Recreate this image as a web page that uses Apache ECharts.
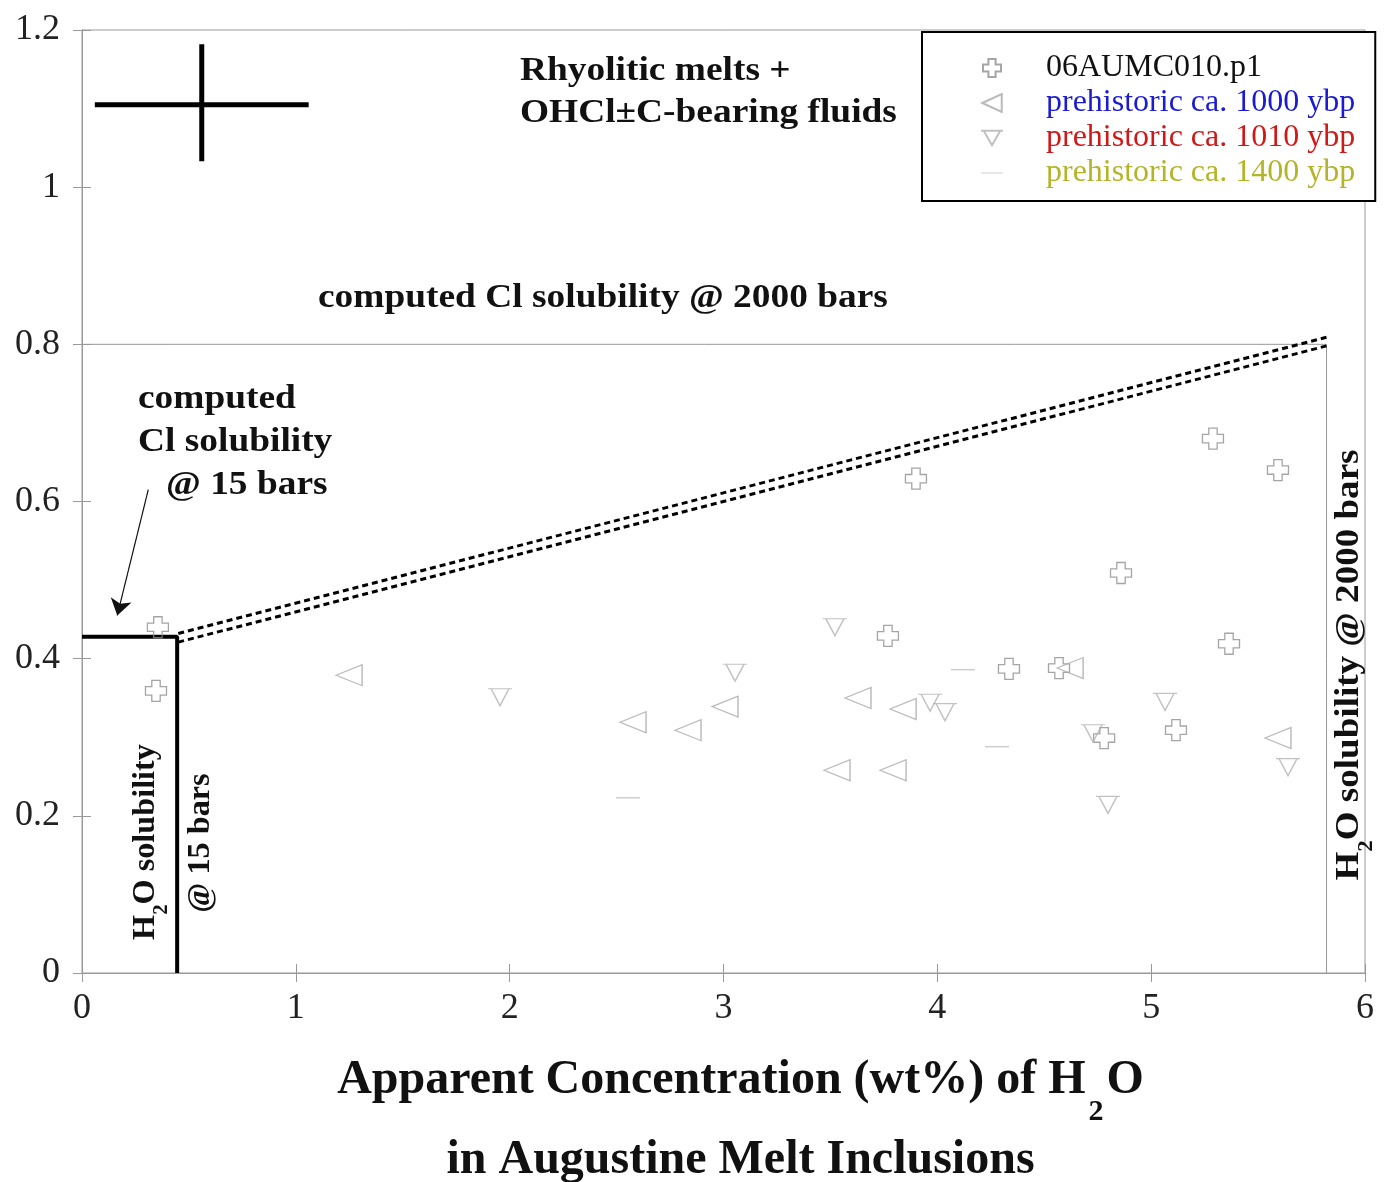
<!DOCTYPE html>
<html>
<head>
<meta charset="utf-8">
<script src="https://cdn.jsdelivr.net/npm/echarts@6/dist/echarts.min.js"></script>
<style>
html,body{margin:0;padding:0;background:#fff;}
#chart{width:1386px;height:1182px;}
</style>
</head>
<body>
<div id="chart"></div>
<script>
// ---- data (x = apparent H2O wt%, y = Cl wt%) ----
const seriesNames = ['06AUMC010.p1', 'prehistoric ca. 1000 ybp', 'prehistoric ca. 1010 ybp', 'prehistoric ca. 1400 ybp'];
const legendColors = ['#111111', '#1a1ad0', '#d01818', '#b4b428'];

const pts06AUMC010 = [
  [0.355, 0.440], [0.346, 0.359], [3.900, 0.629], [3.769, 0.429],
  [4.859, 0.509], [5.289, 0.680], [5.593, 0.640], [5.364, 0.419],
  [4.335, 0.387], [4.569, 0.388], [4.780, 0.299], [5.116, 0.309]
];
const pts1000 = [
  [1.249, 0.379], [2.577, 0.319], [2.834, 0.309], [3.007, 0.339],
  [3.629, 0.350], [3.531, 0.258], [3.793, 0.258], [3.840, 0.336],
  [4.621, 0.388], [5.593, 0.299]
];
const pts1010 = [
  [1.955, 0.351], [3.054, 0.382], [3.521, 0.440], [3.966, 0.344],
  [4.036, 0.332], [5.065, 0.345], [4.728, 0.305], [4.798, 0.214],
  [5.640, 0.262]
];
const pts1400 = [
  [2.553, 0.223], [4.120, 0.386], [4.279, 0.288]
];

// annotation lines (data coordinates)
const errorBarH = [[0.06, 1.105], [1.06, 1.105]];
const errorBarV = [[0.56, 1.182], [0.56, 1.033]];
const sol15bars = [[0, 0.428], [0.445, 0.428], [0.445, 0]];
const sol2000bars = [[0, 0.8], [5.82, 0.8], [5.82, 0]];
const clLineUpper = [[0.45, 0.432], [5.82, 0.809]];
const clLineLower = [[0.45, 0.421], [5.82, 0.798]];
const arrow15 = [[0.31, 0.615], [0.165, 0.455]];

const SERIF = '"Liberation Serif", "Times New Roman", serif';
const GRAY = '#999999';

const crossPath = 'path://M3,0 L7,0 L7,3 L10,3 L10,7 L7,7 L7,10 L3,10 L3,7 L0,7 L0,3 L3,3 Z';
const leftTriPath = 'path://M0,6 L13,0 L13,12 Z';
const downTriPath = 'path://M0,0 L24,0 M3,0 L12,16 L21,0';
const dashPath = 'path://M0,0 L24,0 L24,1 L0,1 Z';

function lineSeries(data, opts) {
  return Object.assign({
    type: 'line', data: data, symbol: 'none', silent: true, z: 3,
    lineStyle: { color: '#000', width: 2 }
  }, opts);
}

function boldText(str, x, y) {
  return {
    type: 'text', x: x, y: y, scaleX: 1.1,
    style: { text: str, font: 'bold 34px ' + SERIF, fill: '#111', verticalAlign: 'middle' }
  };
}

const chart = echarts.init(document.getElementById('chart'), null, { renderer: 'canvas' });

const axisCommon = {
  type: 'value',
  axisLine: { show: true, lineStyle: { color: GRAY, width: 1 } },
  axisTick: { show: true, inside: true, length: 9, lineStyle: { color: GRAY } },
  splitLine: { show: false }
};

const option = {
  backgroundColor: '#fff',
  animation: false,
  grid: {
    left: 82, right: 21, top: 30, bottom: 209,
    show: true, borderColor: GRAY, borderWidth: 1,
    containLabel: false, outerBoundsMode: 'none'
  },
  xAxis: [
    Object.assign({}, axisCommon, {
      min: 0, max: 6, interval: 1, position: 'bottom',
      axisLabel: { color: '#222', fontFamily: SERIF, fontSize: 36, margin: 18 },
      name: '{a|Apparent Concentration (wt%) of H}{s|2}{a|O}\n{b|in Augustine Melt Inclusions}',
      nameLocation: 'middle', nameGap: 84,
      nameTextStyle: {
        padding: [0, 0, 0, 34],
        rich: {
          a: { fontFamily: SERIF, fontWeight: 'bold', fontSize: 48, color: '#111', lineHeight: 54, verticalAlign: 'top' },
          s: { fontFamily: SERIF, fontWeight: 'bold', fontSize: 30, color: '#111', lineHeight: 30, padding: [40, 3, 0, 3], verticalAlign: 'top' },
          b: { fontFamily: SERIF, fontWeight: 'bold', fontSize: 48, color: '#111', lineHeight: 54, padding: [26, 0, 0, 0], verticalAlign: 'top' }
        }
      }
    }),
    Object.assign({}, axisCommon, {
      min: 0, max: 6, interval: 1, position: 'top',
      axisLabel: { show: false }
    })
  ],
  yAxis: [
    Object.assign({}, axisCommon, {
      min: 0, max: 1.2, interval: 0.2, position: 'left',
      axisLabel: {
        color: '#222', fontFamily: SERIF, fontSize: 36, margin: 22,
        formatter: function (v) { return String(parseFloat(v.toFixed(1))); }
      }
    }),
    Object.assign({}, axisCommon, {
      min: 0, max: 1.2, interval: 0.2, position: 'right',
      axisLabel: { show: false }
    })
  ],
  legend: {
    orient: 'vertical', left: 922, top: 32,
    padding: [20, 20, 12, 58],
    itemWidth: 22, itemHeight: 18, itemGap: 3,
    borderColor: '#000', borderWidth: 2, backgroundColor: '#fff',
    textStyle: { fontFamily: SERIF, fontSize: 32, lineHeight: 30, padding: [0, 0, 0, 38] },
    selectedMode: false,
    data: seriesNames.map(function (n, i) {
      return { name: n, textStyle: { color: legendColors[i] } };
    })
  },
  graphic: [
    boldText('Rhyolitic melts +', 520, 71),
    boldText('OHCl\u00b1C-bearing fluids', 520, 113),
    boldText('computed Cl solubility @ 2000 bars', 318, 298),
    boldText('computed', 138, 399),
    boldText('Cl solubility', 138, 442),
    boldText('@ 15 bars', 166, 485),
    {
      type: 'text', x: 147, y: 842, rotation: Math.PI / 2, scaleX: 1.04,
      style: {
        text: '{a|H}{s|2}{a|O solubility}', align: 'center', verticalAlign: 'middle',
        rich: {
          a: { font: 'bold 31px ' + SERIF, fill: '#111', lineHeight: 34, verticalAlign: 'top' },
          s: { font: 'bold 20px ' + SERIF, fill: '#111', lineHeight: 22, padding: [22, 0, 0, 0], verticalAlign: 'top' }
        }
      }
    },
    { type: 'text', x: 201, y: 843, rotation: Math.PI / 2, scaleX: 1.04, style: { text: '@ 15 bars', font: 'bold 31px ' + SERIF, fill: '#111', align: 'center', verticalAlign: 'middle' } },
    {
      type: 'text', x: 1350, y: 665, rotation: Math.PI / 2, scaleX: 1.09,
      style: {
        text: '{a|H}{s|2}{a|O solubility @ 2000 bars}', align: 'center', verticalAlign: 'middle',
        rich: {
          a: { font: 'bold 34px ' + SERIF, fill: '#111', lineHeight: 36, verticalAlign: 'top' },
          s: { font: 'bold 21px ' + SERIF, fill: '#111', lineHeight: 22, padding: [24, 0, 0, 0], verticalAlign: 'top' }
        }
      }
    }
  ],
  series: [
    {
      name: seriesNames[0], type: 'scatter', data: pts06AUMC010, symbol: crossPath, symbolSize: 21,
      itemStyle: { color: 'rgba(255,255,255,0)', borderColor: '#8e8e8e', borderWidth: 1.3 }, z: 5, silent: true
    },
    {
      name: seriesNames[1], type: 'scatter', data: pts1000, symbol: leftTriPath, symbolSize: [26, 21],
      itemStyle: { color: 'rgba(255,255,255,0)', borderColor: '#a9a9a9', borderWidth: 1.3 }, z: 5, silent: true
    },
    {
      name: seriesNames[2], type: 'scatter', data: pts1010, symbol: downTriPath, symbolSize: [24, 17],
      itemStyle: { color: 'rgba(255,255,255,0)', borderColor: '#b2b2b2', borderWidth: 1.3 }, z: 5, silent: true
    },
    {
      name: seriesNames[3], type: 'scatter', data: pts1400, symbol: dashPath, symbolSize: [24, 1.5], symbolKeepAspect: false,
      itemStyle: { color: '#c2c2c2', borderWidth: 0 }, z: 5, silent: true
    },
    lineSeries(errorBarH, { lineStyle: { color: '#000', width: 5 } }),
    lineSeries(errorBarV, { lineStyle: { color: '#000', width: 5 } }),
    lineSeries(sol15bars, { lineStyle: { color: '#000', width: 4 } }),
    lineSeries(sol2000bars, { lineStyle: { color: GRAY, width: 1 } }),
    lineSeries(clLineUpper, { lineStyle: { color: '#000', width: 3, type: [6, 4] } }),
    lineSeries(clLineLower, { lineStyle: { color: '#000', width: 3, type: [6, 4] } }),
    {
      type: 'lines', coordinateSystem: 'cartesian2d', silent: true, z: 4,
      symbol: ['none', 'arrow'], symbolSize: 16,
      lineStyle: { color: '#111', width: 1.2, curveness: 0, opacity: 1 },
      data: [{ coords: arrow15 }]
    }
  ]
};

chart.setOption(option);
</script>
</body>
</html>
